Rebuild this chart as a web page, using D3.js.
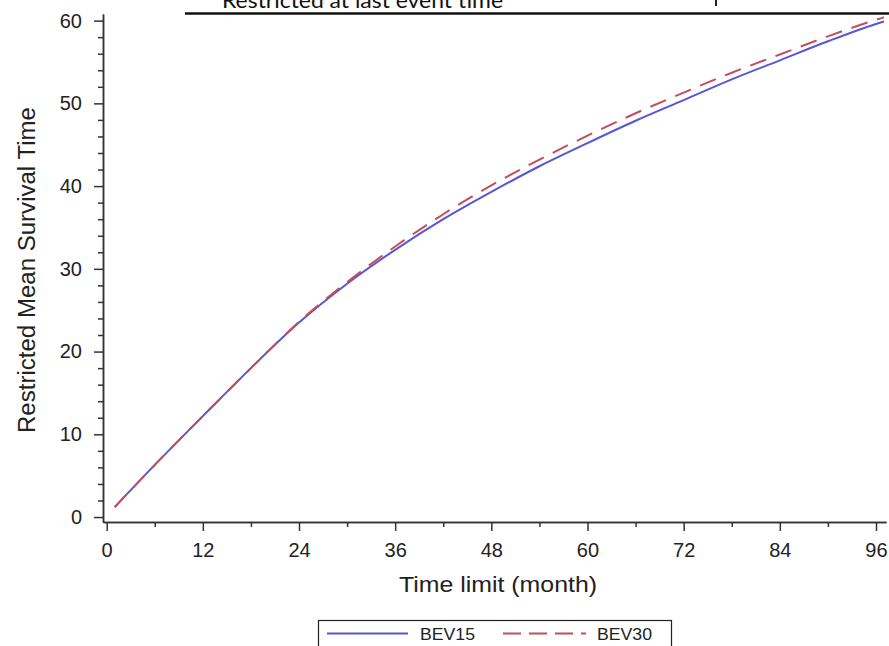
<!DOCTYPE html>
<html>
<head>
<meta charset="utf-8">
<script src="https://cdn.jsdelivr.net/npm/d3@7"></script>
<style>
  html, body { margin: 0; padding: 0; background: #fff; }
  svg { display: block; }
  text { font-family: "Liberation Sans", Arial, sans-serif; fill: #222; }
</style>
</head>
<body>
<svg id="chart" width="889" height="646"></svg>
<script>
// Restricted mean survival time by time limit (months)
const months  = [1, 6, 12, 18, 24, 30, 36, 42, 48, 54, 60, 66, 72, 78, 84, 90, 96, 97];
const bev15   = [1.2, 6.3, 12.2, 18.0, 23.5, 28.2, 32.3, 36.0, 39.3, 42.4, 45.2, 47.9, 50.4, 52.9, 55.2, 57.5, 59.6, 59.9];
const bev30   = [1.2, 6.3, 12.2, 18.0, 23.6, 28.4, 32.7, 36.6, 40.1, 43.2, 46.1, 48.8, 51.3, 53.7, 55.9, 58.1, 60.1, 60.4];
const seriesNames = ["BEV15", "BEV30"];
const xTicks  = [0, 12, 24, 36, 48, 60, 72, 84, 96];
const xMinor  = [6, 18, 30, 42, 54, 66, 78, 90];
const yTicks  = [0, 10, 20, 30, 40, 50, 60];
const yMinor  = [2, 4, 6, 8, 12, 14, 16, 18, 22, 24, 26, 28, 32, 34, 36, 38, 42, 44, 46, 48, 52, 54, 56, 58];

const svg = d3.select("#chart");

const x = d3.scaleLinear().domain([-0.46, 97.25]).range([103, 886]);
const y = d3.scaleLinear().domain([-0.6, 60.8]).range([522, 14]);

// Header remnant above the plot: caption and rule
svg.append("text")
  .attr("x", 222).attr("y", 7.5)
  .attr("textLength", 281).attr("lengthAdjust", "spacingAndGlyphs")
  .style("font-family", "Lato, 'Open Sans', sans-serif")
  .style("font-size", "21px").style("fill", "#111")
  .text("Restricted at last event time");
svg.append("line")
  .attr("x1", 716).attr("x2", 716).attr("y1", 0).attr("y2", 6)
  .attr("stroke", "#222").attr("stroke-width", 2);
svg.append("line")
  .attr("x1", 185).attr("x2", 889).attr("y1", 13.5).attr("y2", 13.5)
  .attr("stroke", "#111").attr("stroke-width", 2.5);

// Axes
function styleAxis(g) {
  g.selectAll("path.domain").attr("stroke", "#333").attr("stroke-width", 1.5);
  g.selectAll(".tick line").attr("stroke", "#333").attr("stroke-width", 1.5);
  g.selectAll(".tick text").style("font-size", "20px").style("font-family", "'Liberation Sans', Arial, sans-serif").attr("fill", "#222");
}

const gx = svg.append("g").attr("transform", "translate(0,522)")
  .call(d3.axisBottom(x).tickValues(xTicks).tickSize(9).tickSizeOuter(0).tickPadding(12).tickFormat(d3.format("d")));
styleAxis(gx);
const gxm = svg.append("g").attr("transform", "translate(0,522)")
  .call(d3.axisBottom(x).tickValues(xMinor).tickSize(5).tickSizeOuter(0).tickFormat(""));
styleAxis(gxm);

const gy = svg.append("g").attr("transform", "translate(103,0)")
  .call(d3.axisLeft(y).tickValues(yTicks).tickSize(9).tickSizeOuter(0).tickPadding(12).tickFormat(d3.format("d")));
styleAxis(gy);
const gym = svg.append("g").attr("transform", "translate(103,0)")
  .call(d3.axisLeft(y).tickValues(yMinor).tickSize(5).tickSizeOuter(0).tickFormat(""));
styleAxis(gym);

// Axis titles
svg.append("text")
  .attr("x", 498).attr("y", 592).attr("text-anchor", "middle")
  .attr("textLength", 198).attr("lengthAdjust", "spacingAndGlyphs")
  .style("font-size", "22px")
  .text("Time limit (month)");
svg.append("text")
  .attr("transform", "translate(35,270) rotate(-90)")
  .attr("text-anchor", "middle")
  .attr("textLength", 326).attr("lengthAdjust", "spacingAndGlyphs")
  .style("font-size", "23px")
  .text("Restricted Mean Survival Time");

// Curves
const line = d3.line()
  .x(d => x(d[0])).y(d => y(d[1]))
  .curve(d3.curveMonotoneX);

const series = [
  { name: seriesNames[0], values: bev15, color: "#5656d8", dash: null },
  { name: seriesNames[1], values: bev30, color: "#c44d5c", dash: "17,10" }
];

series.forEach(s => {
  svg.append("path")
    .datum(months.map((m, i) => [m, s.values[i]]))
    .attr("fill", "none")
    .attr("stroke", s.color)
    .attr("stroke-width", 2)
    .attr("stroke-dasharray", s.dash)
    .attr("d", line);
});

// Legend
const lg = svg.append("g");
lg.append("rect")
  .attr("x", 318.5).attr("y", 620.5).attr("width", 353).attr("height", 40)
  .attr("fill", "#fff").attr("stroke", "#222").attr("stroke-width", 1.2);
const legendItems = [
  { x0: 327, x1: 408, tx: 420, s: series[0] },
  { x0: 503, x1: 586, tx: 597, s: series[1] }
];
legendItems.forEach(it => {
  lg.append("line")
    .attr("x1", it.x0).attr("x2", it.x1).attr("y1", 633.5).attr("y2", 633.5)
    .attr("stroke", it.s.color).attr("stroke-width", 2)
    .attr("stroke-dasharray", it.s.dash ? "18,8" : null);
  lg.append("text")
    .attr("x", it.tx).attr("y", 640)
    .attr("textLength", 55).attr("lengthAdjust", "spacingAndGlyphs")
    .style("font-size", "17px")
    .text(it.s.name);
});
</script>
</body>
</html>
